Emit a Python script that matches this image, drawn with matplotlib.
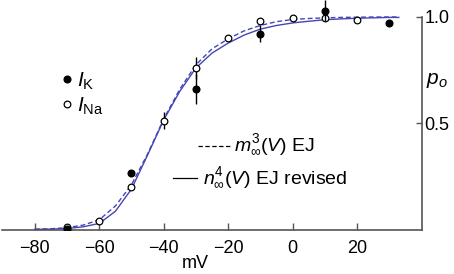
import numpy as np
import matplotlib
matplotlib.use('Agg')
import matplotlib.pyplot as plt

plt.rcParams['font.family'] = ['Liberation Sans', 'DejaVu Sans']
plt.rcParams['mathtext.fontset'] = 'custom'
plt.rcParams['mathtext.rm'] = 'Liberation Sans'
plt.rcParams['mathtext.it'] = 'Liberation Sans:italic'
plt.rcParams['mathtext.cal'] = 'Liberation Sans'

# fitted curves (mV, p_o)
curve_v = [-80, -75, -70, -65, -60, -55, -50, -45, -40, -35, -30, -25,
           -20, -15, -10, -5, 0, 5, 10, 15, 20, 25, 30, 33]
n4_revised = [0.000, 0.001, 0.004, 0.012, 0.028, 0.085, 0.19, 0.35, 0.515,
              0.65, 0.76, 0.83, 0.877, 0.915, 0.943, 0.96, 0.972, 0.98,
              0.987, 0.991, 0.994, 0.996, 0.998, 0.998]
m3_ej = [0.001, 0.003, 0.008, 0.02, 0.045, 0.11, 0.21, 0.355, 0.52, 0.66,
         0.775, 0.85, 0.897, 0.935, 0.96, 0.978, 0.988, 0.993, 0.996,
         0.998, 0.999, 1.0, 1.0, 1.0]

# I_K (filled)
ik_v = [-70, -50, -30, -10, 10, 30]
ik_p = [0.0, 0.267, 0.66, 0.921, 1.03, 0.97]
ik_err = [0.0, 0.0, 0.07, 0.04, 0.05, 0.0]

# I_Na (open)
ina_v = [-70, -60, -50, -40, -30, -20, -10, 0, 10, 20]
ina_p = [0.009, 0.04, 0.20, 0.512, 0.76, 0.90, 0.98, 0.995, 0.995, 0.984]
ina_err = [0.0, 0.0, 0.0, 0.04, 0.05, 0.0, 0.0, 0.0, 0.0, 0.0]

xticks = [-80, -60, -40, -20, 0, 20]
yticks = [0.5, 1.0]

blue = '#4646b4'
axcol = '#555555'

fig = plt.figure(figsize=(4.54, 2.74), dpi=100)
ax = fig.add_axes([0.0044, 0.1606, 0.9245, 0.8394])

ax.plot(curve_v, m3_ej, color=blue, lw=1.0, dashes=(3.5, 2))
ax.plot(curve_v, n4_revised, color=blue, lw=1.0)

ax.errorbar(ina_v, ina_p, yerr=ina_err, fmt='o', ms=4.8, mfc='white',
            mec='black', mew=0.9, ecolor='black', elinewidth=1.0, capsize=0,
            zorder=4)
ax.errorbar(ik_v, ik_p, yerr=ik_err, fmt='o', ms=4.8, mfc='black',
            mec='black', ecolor='black', elinewidth=1.0, capsize=0, zorder=5)

ax.set_xlim(-90.2, 40.1)
ax.set_ylim(-0.003, 1.08)

for s in ['left', 'top']:
    ax.spines[s].set_visible(False)
for s in ['bottom', 'right']:
    ax.spines[s].set_color(axcol)
    ax.spines[s].set_linewidth(1.2)
ax.spines['right'].set_bounds(-0.003, 1.0)

ax.set_xticks(xticks)
ax.set_xticklabels([str(t).replace('-', '\u2212') for t in xticks])
ax.yaxis.tick_right()
ax.set_yticks(yticks)
ax.set_yticklabels(['0.5', '1.0'])
ax.tick_params(axis='x', direction='in', length=5, width=1.0, color=axcol,
               labelsize=13, pad=7)
ax.tick_params(axis='y', direction='in', length=4, width=1.0, color=axcol,
               labelsize=13, pad=2)

fig.text(0.4295, 0.038, 'mV', ha='center', va='center', fontsize=13)
fig.text(0.9626, 0.708, r'$p_o$', ha='center', va='center', fontsize=15)

# hand-drawn key
ax.plot([0.154], [0.655], 'o', ms=4.8, mfc='black', mec='black',
        transform=ax.transAxes, clip_on=False)
ax.plot([0.154], [0.549], 'o', ms=4.8, mfc='white', mec='black', mew=0.9,
        transform=ax.transAxes, clip_on=False)
ax.text(0.178, 0.645, r'$I_{\mathrm{K}}$', transform=ax.transAxes,
        fontsize=15, va='center')
ax.text(0.178, 0.539, r'$I_{\mathrm{Na}}$', transform=ax.transAxes,
        fontsize=15, va='center')

ax.plot([0.467, 0.543], [0.3665, 0.3665], color='black', lw=0.9,
        dashes=(3.5, 2), transform=ax.transAxes)
ax.plot([0.407, 0.465], [0.226, 0.226], color='black', lw=0.9,
        transform=ax.transAxes)
ax.text(0.552, 0.37, r'$m^3_\infty(V)$ EJ', transform=ax.transAxes,
        fontsize=14, va='center')
ax.text(0.478, 0.23, r'$n^4_\infty(V)$ EJ revised', transform=ax.transAxes,
        fontsize=14, va='center')

fig.savefig('out.png', dpi=100)
